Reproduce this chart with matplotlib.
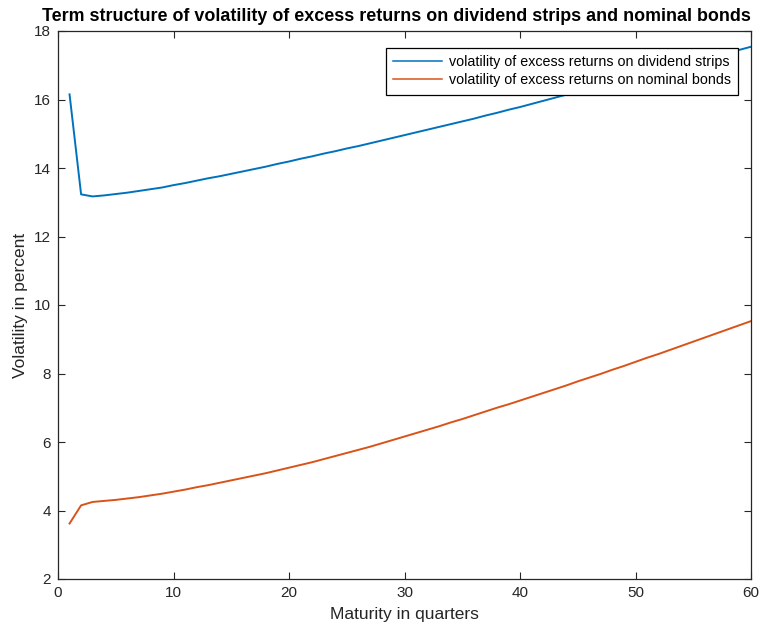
import matplotlib
matplotlib.use("Agg")
import matplotlib.pyplot as plt

plt.rcParams["font.family"] = ["Liberation Sans", "DejaVu Sans"]

# Maturity in quarters
maturity = list(range(1, 61))

# Volatility of excess returns on dividend strips (percent)
vol_dividend = [
    16.15, 13.23, 13.17, 13.20, 13.24, 13.28, 13.33, 13.38, 13.43, 13.50,
    13.56, 13.63, 13.70, 13.76, 13.83, 13.90, 13.97, 14.04, 14.12, 14.19,
    14.27, 14.34, 14.42, 14.49, 14.57, 14.64, 14.72, 14.80, 14.88, 14.96,
    15.04, 15.12, 15.20, 15.28, 15.36, 15.44, 15.53, 15.61, 15.70, 15.78,
    15.87, 15.96, 16.05, 16.14, 16.23, 16.32, 16.40, 16.49, 16.58, 16.67,
    16.75, 16.84, 16.93, 17.01, 17.10, 17.19, 17.28, 17.36, 17.45, 17.54,
]

# Volatility of excess returns on nominal bonds (percent)
vol_bonds = [
    3.62, 4.15, 4.25, 4.28, 4.31, 4.35, 4.39, 4.44, 4.49, 4.55,
    4.61, 4.68, 4.74, 4.81, 4.88, 4.95, 5.02, 5.09, 5.17, 5.25,
    5.33, 5.41, 5.50, 5.59, 5.68, 5.77, 5.86, 5.96, 6.06, 6.16,
    6.26, 6.36, 6.46, 6.57, 6.67, 6.78, 6.89, 7.00, 7.10, 7.21,
    7.32, 7.43, 7.54, 7.65, 7.77, 7.88, 7.99, 8.11, 8.22, 8.34,
    8.46, 8.57, 8.69, 8.81, 8.93, 9.05, 9.17, 9.29, 9.41, 9.53,
]

labels = [
    "volatility of excess returns on dividend strips",
    "volatility of excess returns on nominal bonds",
]

fig = plt.figure(figsize=(7.61, 6.25), dpi=100)
ax = fig.add_axes([58 / 761, 46 / 625, 693 / 761, 548 / 625])

ax.plot(maturity, vol_dividend, color=(0, 0.447, 0.741), linewidth=1.4, label=labels[0])
ax.plot(maturity, vol_bonds, color=(0.85, 0.325, 0.098), linewidth=1.4, label=labels[1])

ax.set_xlim(0, 60)
ax.set_ylim(2, 18)
ax.set_xticks(range(0, 61, 10))
ax.set_yticks(range(2, 19, 2))

ax.tick_params(direction="in", top=True, right=True, length=5, width=0.8,
               labelsize=11, colors="#262626", pad=5)
for side in ax.spines.values():
    side.set_linewidth(0.9)
    side.set_color("#262626")

# title sits a little left of the axes centre in the original
ax.set_title("Term structure of volatility of excess returns on dividend strips and nominal bonds",
             fontsize=12.9, fontweight="bold", pad=7, x=0.488)
ax.set_xlabel("Maturity in quarters", fontsize=12.5, color="#262626", labelpad=5)
ax.set_ylabel("Volatility in percent", fontsize=12.5, color="#262626", labelpad=4)

leg = ax.legend(loc="upper right", bbox_to_anchor=(0.981, 0.969), fontsize=10.3,
                handlelength=3.4, fancybox=False, framealpha=1, edgecolor="black",
                borderaxespad=0, borderpad=0.5, labelspacing=0.3, handletextpad=0.5)
leg.get_frame().set_linewidth(0.9)
for line in leg.get_lines():
    line.set_linewidth(1.1)

fig.savefig("out.png", dpi=100)
